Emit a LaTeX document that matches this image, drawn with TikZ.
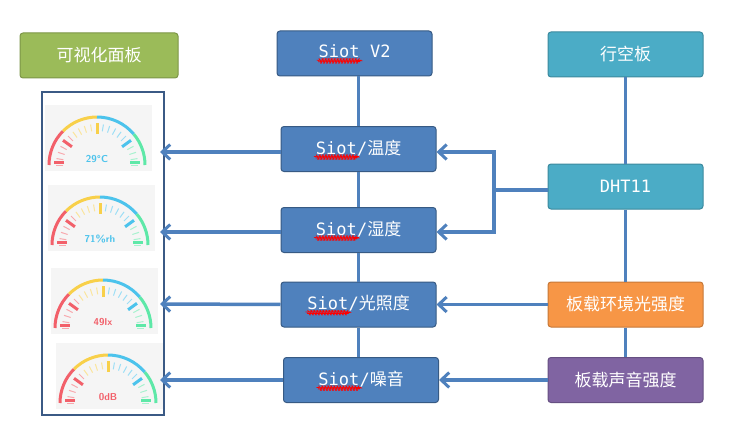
\documentclass[tikz,border=0pt]{standalone}
\usepackage{fontspec}
\setmainfont{Noto Sans CJK SC}
\newfontfamily\mono{DejaVu Sans Mono}
\usetikzlibrary{arrows.meta,decorations.pathmorphing}
\definecolor{bblue}{HTML}{4F81BD}
\definecolor{bgreen}{HTML}{9BBB59}
\definecolor{bteal}{HTML}{4BACC6}
\definecolor{borange}{HTML}{F79646}
\definecolor{bpurple}{HTML}{8064A2}
\definecolor{frame}{HTML}{3B5A85}
\definecolor{gred}{HTML}{F2606A}
\definecolor{gyel}{HTML}{F8D04A}
\definecolor{gblu}{HTML}{4CC3EC}
\definecolor{ggrn}{HTML}{5EE8A8}
\newcommand\sqw[1]{\tikz[baseline=(w.base)]{\node[inner sep=0pt,outer sep=0pt,minimum width=0pt,minimum height=0pt,draw=none,fill=none,anchor=base] (w) {#1};\draw[red,line width=0.6pt,decorate,decoration={snake,amplitude=0.8pt,segment length=3pt}] ([yshift=-3pt]w.base west) -- ([yshift=-3pt]w.base east);}}
\tikzset{
  box/.style={draw=bblue!70!black,line width=1pt,rounded corners=3pt,minimum width=155pt,minimum height=45pt,text=white,font=\fontsize{17}{17}\selectfont,inner sep=0pt},
  con/.style={draw=bblue,line width=3.5pt},
  arr/.style={con,-{Straight Barb[length=8pt,width=15pt,line width=3pt]}},
  pics/gauge/.style n args={2}{code={
    \fill[gray!8] (-52,-6) rectangle (55,60);
    \draw[gred,line width=3pt] (180:48) arc (180:135:48);
    \draw[gyel,line width=3pt] (135:48) arc (135:90:48);
    \draw[gblu,line width=3pt] (90:48) arc (90:40:48);
    \draw[ggrn,line width=3pt] (40:48) arc (40:0:48);
    \foreach \a in {0,9,...,180}{
      \pgfmathsetmacro\c{\a<45?1:(\a<90?2:(\a<135?3:4))}
      \ifnum\c=1 \def\cc{ggrn}\fi
      \ifnum\c=2 \def\cc{gblu}\fi
      \ifnum\c=3 \def\cc{gyel}\fi
      \ifnum\c=4 \def\cc{gred}\fi
      \draw[\cc!55,line width=1pt] (\a:34) -- (\a:41);}
    \draw[gred,line width=3pt] (180-36:31) -- (180-36:42);
    \draw[gblu,line width=3pt] (36:31) -- (36:42);
    \draw[gyel,line width=3pt] (90:31) -- (90:42);
    \draw[gred,line width=3pt] (-43,3) -- (-33,3);
    \draw[ggrn,line width=3pt] (33,3) -- (43,3);
    \node[text=#2,font=\bfseries\sffamily\fontsize{10}{10}\selectfont] at (0,6) {#1};
  }}
}
\begin{document}
\begin{tikzpicture}[x=1pt,y=-1pt]
\useasboundingbox[fill=white] (0,0) rectangle (729,436);
\node[box,fill=bgreen,draw=bgreen!80!black,minimum width=158pt] (panel) at (99,55.5) {可视化面板};
\node[box,fill=bblue] (v2) at (354.5,53.5) {{\mono\sqw{Siot} V2}};
\node[box,fill=bteal,draw=bteal!80!black] (hk) at (625.5,54.5) {行空板};
\node[box,fill=bblue] (t) at (358.5,149) {{\mono\sqw{Siot}/}温度};
\node[box,fill=bblue] (h) at (358.5,230) {{\mono\sqw{Siot}/}湿度};
\node[box,fill=bblue] (l) at (358.5,304.5) {{\mono\sqw{Siot}/}光照度};
\node[box,fill=bblue] (n) at (361,380) {{\mono\sqw{Siot}/}噪音};
\node[box,fill=bteal,draw=bteal!80!black] (dht) at (625.5,186.5) {{\mono DHT11}};
\node[box,fill=borange,draw=borange!80!black] (amb) at (625.5,304.5) {板载环境光强度};
\node[box,fill=bpurple,draw=bpurple!80!black] (snd) at (625.5,380) {板载声音强度};
% vertical lines
\draw[con] (v2.south -| t.north) -- (t.north);
\draw[con] (t.south) -- (h.north);
\draw[con] (h.south -| l.north) -- (l.north);
\draw[con] (l.south) -- (l.south |- n.north);
\draw[con] (hk.south) -- (dht.north);
\draw[con] (dht.south) -- (amb.north);
\draw[con] (amb.south) -- (snd.north);
% right side
\coordinate (j) at (494,190);
\draw[con] (dht.west |- j) -- (j);
\draw[con] (494,150.25) -- (494,233.75);
\draw[arr] (494,152) -- (t.east |- 0,152);
\draw[arr] (494,232) -- (h.east |- 0,232);
\draw[arr] (amb.west) -- (l.east);
\draw[arr] (snd.west) -- (n.east);
% panel
\draw[frame,line width=1.5pt] (42,92) rectangle (164,415);
\pic[yscale=-1] at (97,165) {gauge={29°C}{gblu}};
\pic[yscale=-1] at (100,245) {gauge={71\%rh}{gblu}};
\pic[yscale=-1] at (103,328) {gauge={49lx}{gred}};
\pic[yscale=-1] at (108,403) {gauge={0dB}{gred}};
\coordinate (g1) at (160,152);
\coordinate (g2) at (160,232);
\coordinate (g3) at (160,304);
\coordinate (g4) at (160,380);
\draw[arr] (t.west |- g1) -- (g1);
\draw[arr] (h.west |- g2) -- (g2);
\draw[arr] (l.west) -- (g3);
\draw[arr] (n.west) -- (g4);
\end{tikzpicture}
\end{document}
